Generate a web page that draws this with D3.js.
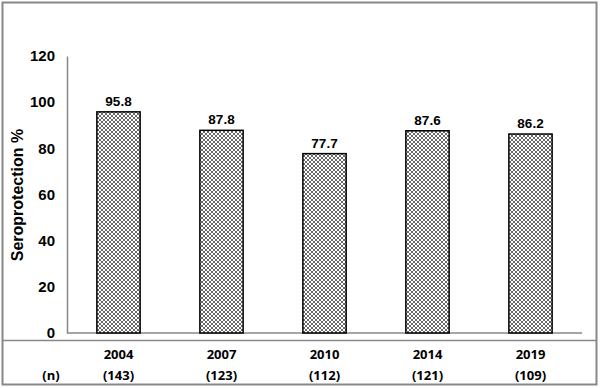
<!DOCTYPE html>
<html>
<head>
<meta charset="utf-8">
<script src="https://cdn.jsdelivr.net/npm/d3@7"></script>
<style>
  body { margin: 0; background: #fff; }
  svg { display: block; }
</style>
</head>
<body>
<div id="chart"></div>
<script>
const years = ["2004", "2007", "2010", "2014", "2019"];
const counts = ["(143)", "(123)", "(112)", "(121)", "(109)"];
const seroprotection = [95.8, 87.8, 77.7, 87.6, 86.2];
const yTicks = [0, 20, 40, 60, 80, 100, 120];

let width = 600, height = 388;
let plotLeft = 67, plotRight = 582, plotTop = 56, plotBottom = 333;

let svg = d3.select("#chart").append("svg")
	.attr("width", width)
	.attr("height", height);

// crosshatch fill for the bars
let defs = svg.append("defs");
let pat = defs.append("pattern")
	.attr("id", "hatch")
	.attr("patternUnits", "userSpaceOnUse")
	.attr("width", 4)
	.attr("height", 4);
pat.append("rect").attr("width", 4).attr("height", 4).attr("fill", "#fff");
pat.append("path")
	.attr("d", "M0,0 L4,4 M4,0 L0,4 M-1,3 L1,5 M3,-1 L5,1 M-1,1 L1,-1 M3,5 L5,3")
	.attr("stroke", "#444")
	.attr("stroke-width", 0.8);

// outer frame and table separator
svg.append("rect")
	.attr("x", 2.5).attr("y", 2.5)
	.attr("width", 594).attr("height", 382)
	.attr("fill", "none")
	.attr("stroke", "#888")
	.attr("stroke-width", 2);

svg.append("line")
	.attr("x1", 2).attr("x2", 597)
	.attr("y1", 340.5).attr("y2", 340.5)
	.attr("stroke", "#888")
	.attr("stroke-width", 1.5);

let xScale = d3.scaleBand()
	.domain(years)
	.range([plotLeft, plotRight])
	.paddingInner(0.58)
	.paddingOuter(0.29);

let yScale = d3.scaleLinear()
	.domain([0, 120])
	.range([plotBottom, plotTop]);

// y axis
let yAxis = d3.axisLeft(yScale).tickValues(yTicks).tickSize(0).tickPadding(12);
let gy = svg.append("g")
	.attr("transform", `translate(${plotLeft}, 0)`)
	.call(yAxis);
gy.select(".domain").attr("stroke", "#888").attr("stroke-width", 1.5);
gy.selectAll("text")
	.style("font-family", "'Liberation Sans', Arial, sans-serif")
	.style("font-weight", "bold")
	.style("font-size", "15px")
	.attr("fill", "#000");

// baseline
svg.append("line")
	.attr("x1", plotLeft).attr("x2", plotRight)
	.attr("y1", yScale(0)).attr("y2", yScale(0))
	.attr("stroke", "#888")
	.attr("stroke-width", 1.5);

svg.append("text")
	.attr("transform", `translate(23, 195) rotate(-90)`)
	.attr("text-anchor", "middle")
	.style("font-family", "'Liberation Sans', Arial, sans-serif")
	.style("font-weight", "bold")
	.style("font-size", "16px")
	.text("Seroprotection %");

// bars
svg.selectAll(".bar")
	.data(seroprotection)
	.enter()
	.append("rect")
	.attr("class", "bar")
	.attr("x", (d, i) => xScale(years[i]))
	.attr("y", d => yScale(d))
	.attr("width", xScale.bandwidth())
	.attr("height", d => yScale(0) - yScale(d))
	.attr("fill", "url(#hatch)")
	.attr("stroke", "#000")
	.attr("stroke-width", 1.5);

svg.selectAll(".value")
	.data(seroprotection)
	.enter()
	.append("text")
	.attr("class", "value")
	.attr("x", (d, i) => xScale(years[i]) + xScale.bandwidth() / 2)
	.attr("y", d => yScale(d) - 6)
	.attr("text-anchor", "middle")
	.style("font-family", "'Liberation Sans', Arial, sans-serif")
	.style("font-weight", "bold")
	.style("font-size", "13.5px")
	.text(d => d.toFixed(1));

// table rows under the axis
let tableFont = "'Open Sans', Lato, sans-serif";
svg.selectAll(".year")
	.data(years)
	.enter()
	.append("text")
	.attr("class", "year")
	.attr("x", d => xScale(d) + xScale.bandwidth() / 2)
	.attr("y", 359)
	.attr("text-anchor", "middle")
	.style("font-family", tableFont)
	.style("font-weight", "bold")
	.style("font-size", "13px")
	.text(d => d);

svg.selectAll(".count")
	.data(counts)
	.enter()
	.append("text")
	.attr("class", "count")
	.attr("x", (d, i) => xScale(years[i]) + xScale.bandwidth() / 2)
	.attr("y", 380)
	.attr("text-anchor", "middle")
	.style("font-family", tableFont)
	.style("font-weight", "bold")
	.style("font-size", "13px")
	.text(d => d);

svg.append("text")
	.attr("x", 51)
	.attr("y", 380)
	.attr("text-anchor", "middle")
	.style("font-family", tableFont)
	.style("font-weight", "bold")
	.style("font-size", "13px")
	.text("(n)");
</script>
</body>
</html>
